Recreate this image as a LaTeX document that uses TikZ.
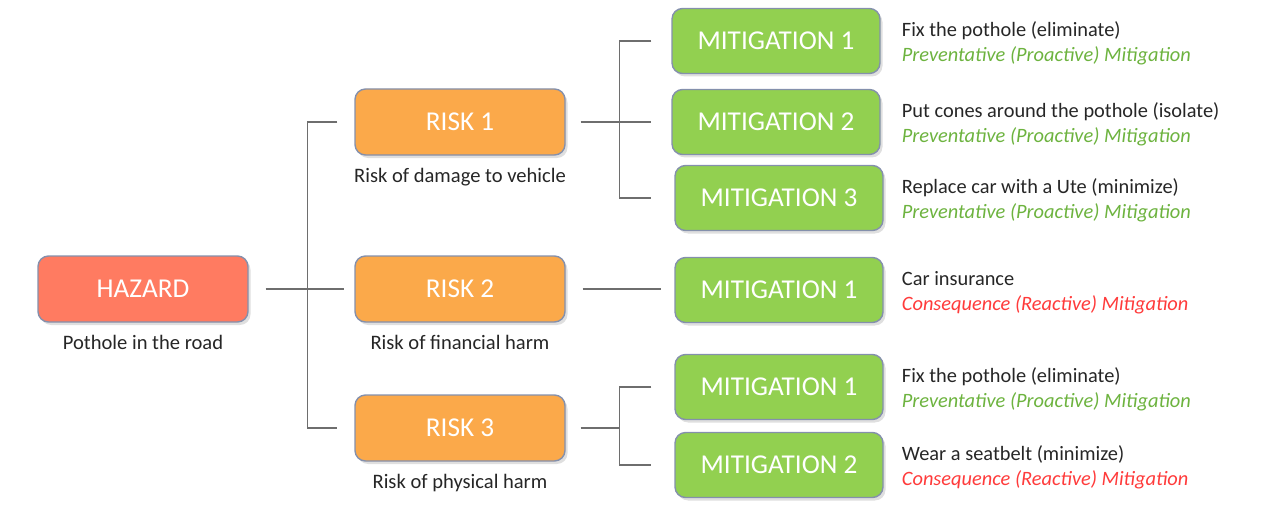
\documentclass[tikz,border=0pt]{standalone}
\usepackage{xcolor}
\usepackage{fontspec}
\setmainfont{Carlito}
\usepackage{tikz}
\usetikzlibrary{shapes, positioning, shadows, calc}
\definecolor{hazardred}{HTML}{FF7B61}
\definecolor{riskorange}{HTML}{FBA94A}
\definecolor{mitgreen}{HTML}{92D050}
\definecolor{boxedge}{HTML}{8490AC}
\definecolor{linkgray}{HTML}{6E6E6E}
\definecolor{proactgreen}{HTML}{6DB33F}
\definecolor{reactred}{HTML}{FF3B3B}
\definecolor{labeldark}{HTML}{262626}
\tikzset{
  basebox/.style={draw=boxedge, line width=0.8pt, rounded corners=6pt, minimum width=4.2cm, minimum height=1.32cm, align=center, text=white, font=\fontsize{15.5}{17}\selectfont, drop shadow={opacity=0.25, shadow xshift=0.05cm, shadow yshift=-0.06cm}},
  hazardbox/.style={basebox, fill=hazardred},
  riskbox/.style={basebox, fill=riskorange},
  mitbox/.style={basebox, fill=mitgreen, minimum width=4.16cm, minimum height=1.3cm},
  undertxt/.style={font=\fontsize{11.7}{13}\selectfont, text=labeldark},
  sidetxt/.style={font=\fontsize{11.6}{14.3}\selectfont, text=labeldark, align=left, anchor=west},
  link/.style={draw=linkgray, line width=0.6pt}
}
\newcommand{\proact}{\textcolor{proactgreen}{\itshape Preventative (Proactive) Mitigation}}
\newcommand{\react}{\textcolor{reactred}{\itshape Consequence (Reactive) Mitigation}}

\begin{document}
\begin{tikzpicture}
\useasboundingbox (0,0) rectangle (25.54,-10.28);

% ===== HAZARD =====
\node[hazardbox] (HZ) at (2.86, -5.78) {HAZARD};
\node[undertxt, below=0.12cm of HZ] (HZt) {Pothole in the road};

% ===== RISKS =====
\node[riskbox] (R1) at (9.20, -2.44) {RISK 1};
\node[riskbox] (R2) at (9.20, -5.78) {RISK 2};
\node[riskbox] (R3) at (9.20, -8.56) {RISK 3};
\node[undertxt, below=0.12cm of R1] (R1t) {Risk of damage to vehicle};
\node[undertxt, below=0.12cm of R2] (R2t) {Risk of financial harm};
\node[undertxt, below=0.12cm of R3] (R3t) {Risk of physical harm};

% ===== MITIGATIONS =====
\node[mitbox] (M11) at (15.52, -0.82) {MITIGATION 1};
\node[mitbox] (M12) at (15.52, -2.44) {MITIGATION 2};
\node[mitbox] (M13) at (15.58, -3.96) {MITIGATION 3};
\node[mitbox] (M21) at (15.58, -5.80) {MITIGATION 1};
\node[mitbox] (M31) at (15.58, -7.74) {MITIGATION 1};
\node[mitbox] (M32) at (15.58, -9.30) {MITIGATION 2};

\node[sidetxt] (M11t) at ([xshift=0.3cm, yshift=-0.05cm]M11.east) {Fix the pothole (eliminate)\\\proact};
\node[sidetxt] (M12t) at ([xshift=0.3cm, yshift=-0.05cm]M12.east) {Put cones around the pothole (isolate)\\\proact};
\node[sidetxt] (M13t) at ([xshift=0.24cm, yshift=-0.05cm]M13.east) {Replace car with a Ute (minimize)\\\proact};
\node[sidetxt] (M21t) at ([xshift=0.24cm, yshift=-0.05cm]M21.east) {Car insurance\\\react};
\node[sidetxt] (M31t) at ([xshift=0.24cm, yshift=-0.05cm]M31.east) {Fix the pothole (eliminate)\\\proact};
\node[sidetxt] (M32t) at ([xshift=0.24cm, yshift=-0.05cm]M32.east) {Wear a seatbelt (minimize)\\\react};

% ===== CONNECTORS =====
\coordinate (HB) at ([xshift=-0.94cm]R2.west);
\coordinate (RB1) at ([xshift=-1.04cm]M12.west);
\coordinate (RB3) at (RB1 |- R3.east);

\draw[link] ([xshift=0.34cm]HZ.east) -- ([xshift=-0.2cm]R2.west);
\draw[link] ([xshift=-0.34cm]R1.west) -| (HB) |- ([xshift=-0.34cm]R3.west);

\draw[link] ([xshift=0.3cm]R1.east) -- ([xshift=-0.4cm]M12.west);
\draw[link] ([xshift=-0.4cm]M11.west) -| (RB1) |- ([xshift=-0.46cm]M13.west);

\draw[link] ([xshift=0.34cm]R2.east) -- ([xshift=-0.26cm]M21.west |- R2.east);

\draw[link] ([xshift=0.3cm]R3.east) -- (RB3);
\draw[link] ([xshift=-0.46cm]M31.west) -| (RB3) |- ([xshift=-0.46cm]M32.west);

\end{tikzpicture}
\end{document}
